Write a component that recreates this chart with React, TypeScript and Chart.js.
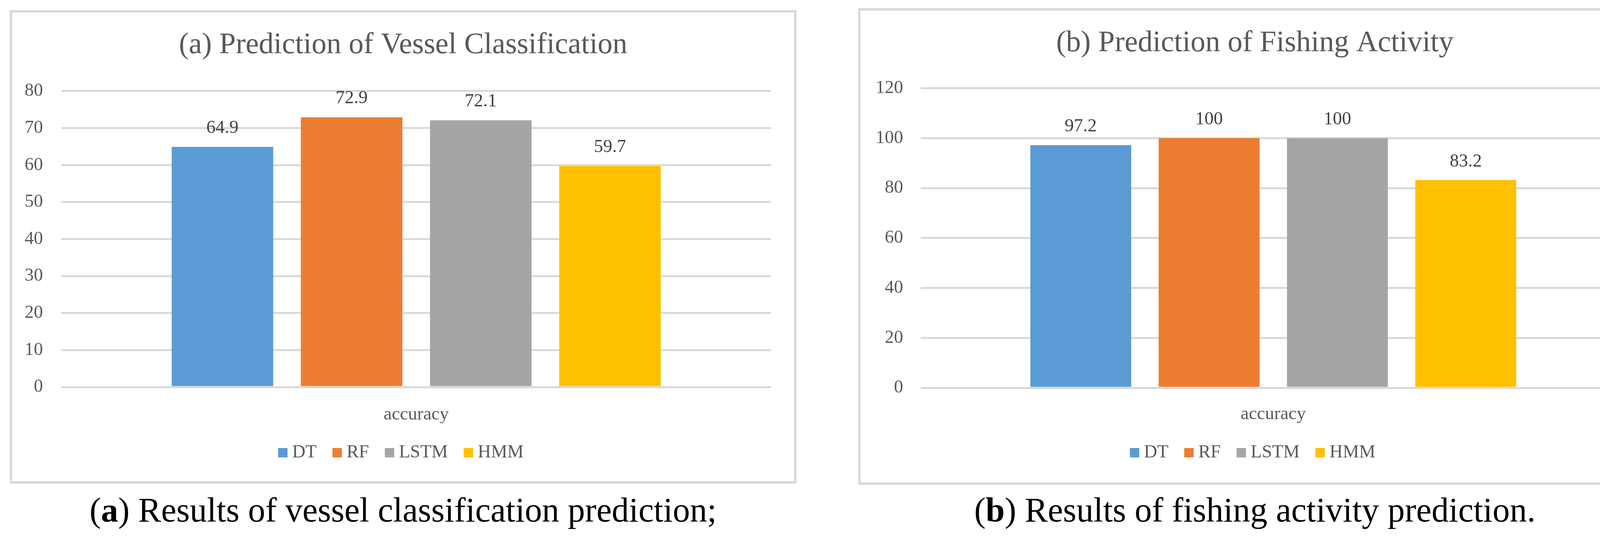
import React, { useEffect, useRef } from 'react';
import { Chart, registerables } from 'chart.js';

Chart.register(...registerables);

// ---------- data ----------
const categories = ['accuracy'];
const seriesNames = ['DT', 'RF', 'LSTM', 'HMM'];
const seriesColors = ['#5B9BD5', '#ED7D31', '#A5A5A5', '#FFC000'];
const vesselValues = [64.9, 72.9, 72.1, 59.7];
const fishingValues = [97.2, 100, 100, 83.2];
const vesselAxis = [0, 80, 10]; // min, max, step
const fishingAxis = [0, 120, 20];
const titles = ['(a) Prediction of Vessel Classification', '(b) Prediction of Fishing Activity'];
const captionLetters = ['a', 'b'];
const captionTexts = ['Results of vessel classification prediction;', 'Results of fishing activity prediction.'];

const FONT = "'Liberation Serif', 'Times New Roman', serif";
const GREY_TEXT = '#595959';
const GRID = '#d9d9d9';

const valueLabelPlugin = {
  id: 'valueLabels',
  afterDatasetsDraw(chart: any, _args: any, opts: any) {
    const ctx = chart.ctx;
    ctx.save();
    ctx.font = `${opts.size}px ${FONT}`;
    ctx.fillStyle = opts.color;
    ctx.textAlign = 'center';
    ctx.textBaseline = 'alphabetic';
    chart.data.datasets.forEach((ds: any, i: number) => {
      const meta = chart.getDatasetMeta(i);
      meta.data.forEach((el: any, j: number) => {
        const p = el.getProps(['x', 'y'], true);
        ctx.fillText(String(ds.data[j]), p.x, p.y - opts.offset);
      });
    });
    ctx.restore();
  },
};

type PanelCfg = {
  left: number;
  top: number;
  w: number;
  h: number;
  values: number[];
  axis: number[];
  title: string;
  letter: string;
  caption: string;
  yWidth: number;
  tickPad: number;
  rightPad: number;
  titlePadTop: number;
  titlePadBottom: number;
  xHeight: number;
  xPad: number;
  legendPadBottom: number;
  labelOffset: number;
};

function Panel({ cfg }: { cfg: PanelCfg }) {
  const ref = useRef<HTMLCanvasElement>(null);
  useEffect(() => {
    if (!ref.current) return;
    const chart = new Chart(ref.current, {
      type: 'bar',
      data: {
        labels: categories,
        datasets: seriesNames.map((name, i) => ({
          label: name,
          data: [cfg.values[i]],
          backgroundColor: seriesColors[i],
          borderWidth: 0,
          categoryPercentage: 0.728,
          barPercentage: 0.786,
          xAxisID: 'x',
          yAxisID: 'y',
        })),
      },
      options: {
        animation: false,
        responsive: true,
        maintainAspectRatio: false,
        devicePixelRatio: 1,
        events: [],
        layout: { padding: { left: 0, right: 0, top: 0, bottom: cfg.legendPadBottom } },
        plugins: {
          title: {
            display: true,
            text: cfg.title,
            color: GREY_TEXT,
            font: { family: FONT, size: 76, weight: 'normal' },
            padding: { top: cfg.titlePadTop, bottom: cfg.titlePadBottom },
          },
          legend: {
            display: true,
            position: 'bottom',
            labels: {
              usePointStyle: true,
              pointStyle: 'rect',
              boxWidth: 1,
              boxHeight: 24,
              padding: 52,
              color: GREY_TEXT,
              font: { family: FONT, size: 47 },
            },
          },
          tooltip: { enabled: false },
          valueLabels: { size: 47, color: '#404040', offset: cfg.labelOffset },
        } as any,
        scales: {
          x: {
            grid: { display: false },
            border: { display: false },
            ticks: { color: GREY_TEXT, font: { family: FONT, size: 47 }, padding: cfg.xPad },
            afterFit: (s: any) => {
              s.height = cfg.xHeight;
            },
          },
          y: {
            min: cfg.axis[0],
            max: cfg.axis[1],
            ticks: { stepSize: cfg.axis[2], color: GREY_TEXT, font: { family: FONT, size: 47 }, padding: cfg.tickPad },
            grid: { color: GRID, lineWidth: 5, drawTicks: false },
            border: { display: false },
            afterFit: (s: any) => {
              s.width = cfg.yWidth;
            },
          },
          yR: {
            position: 'right',
            display: true,
            grid: { display: false },
            border: { display: false },
            ticks: { display: false },
            afterFit: (s: any) => {
              s.width = cfg.rightPad;
            },
          },
        } as any,
      },
      plugins: [valueLabelPlugin as any],
    });
    return () => chart.destroy();
  }, []);

  return (
    <>
      <div
        style={{
          position: 'absolute',
          left: cfg.left,
          top: cfg.top,
          width: cfg.w,
          height: cfg.h,
          border: `6px solid ${GRID}`,
          background: '#fff',
        }}
      >
        <div style={{ position: 'relative', width: '100%', height: '100%' }}>
          <canvas ref={ref} />
        </div>
      </div>
      <div
        style={{
          position: 'absolute',
          left: cfg.left,
          top: 1261,
          width: cfg.w + 12,
          textAlign: 'center',
          fontFamily: FONT,
          fontSize: 88,
          lineHeight: 1,
          color: '#000',
          whiteSpace: 'nowrap',
        }}
      >
        (<b>{cfg.letter}</b>) {cfg.caption}
      </div>
    </>
  );
}

const panels: PanelCfg[] = [
  {
    left: 25,
    top: 26,
    w: 2002,
    h: 1199,
    values: vesselValues,
    axis: vesselAxis,
    title: titles[0],
    letter: captionLetters[0],
    caption: captionTexts[0],
    yWidth: 126,
    tickPad: 47,
    rightPad: 59,
    titlePadTop: 38.7,
    titlePadBottom: 71,
    xHeight: 92.5,
    xPad: 34,
    legendPadBottom: 39.5,
    labelOffset: 36,
  },
  {
    left: 2197,
    top: 21,
    w: 2019,
    h: 1207,
    values: fishingValues,
    axis: fishingAxis,
    title: titles[1],
    letter: captionLetters[1],
    caption: captionTexts[1],
    yWidth: 154,
    tickPad: 45,
    rightPad: 60,
    titlePadTop: 38.7,
    titlePadBottom: 68.6,
    xHeight: 90.5,
    xPad: 31.8,
    legendPadBottom: 42.5,
    labelOffset: 35,
  },
];

export default function App() {
  return (
    <div>
      {panels.map((p, i) => (
        <Panel key={i} cfg={p} />
      ))}
    </div>
  );
}
